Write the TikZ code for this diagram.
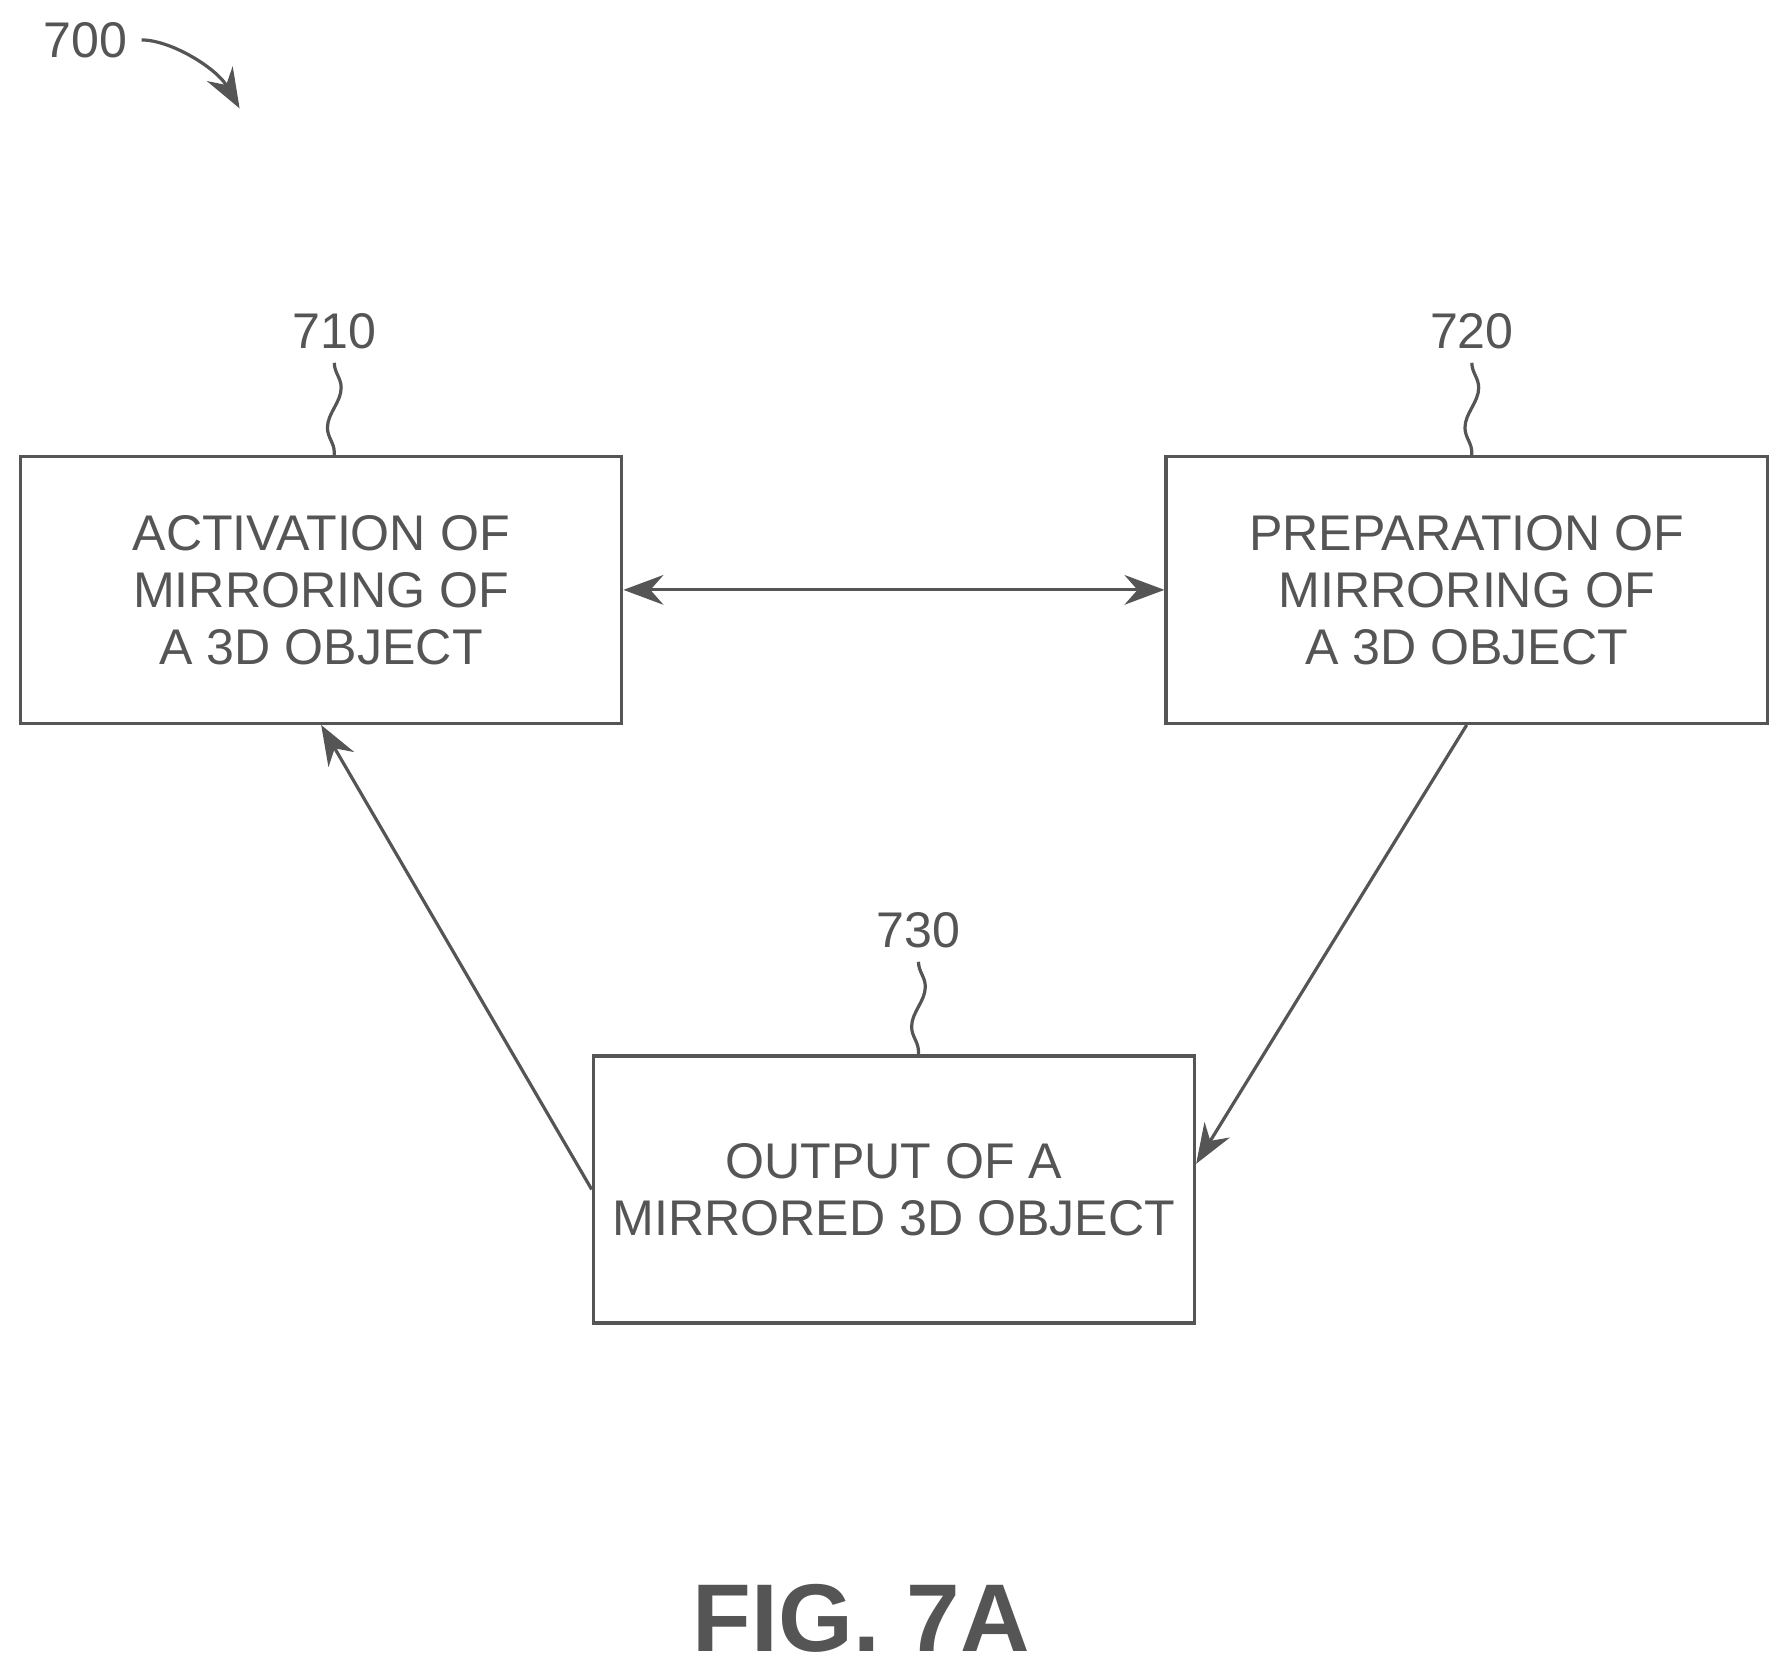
\documentclass[tikz,border=0pt]{standalone}
\usepackage{fontspec}
\setmainfont{Liberation Sans}
\usetikzlibrary{arrows.meta,positioning,decorations.pathmorphing}
\definecolor{strich}{RGB}{85,85,85}
\tikzset{
  kasten/.style={draw=strich, thick, minimum width=5.27cm, minimum height=2.34cm,
    align=center, font=\fontsize{12.5}{14.2}\selectfont, text=strich},
  nummer/.style={font=\fontsize{12.5}{14}\selectfont, text=strich},
  pfeil/.style={draw=strich, thick, -{Stealth[length=3.5mm,width=2.6mm]}},
  welle/.style={draw=strich, thick, decorate, decoration={snake, amplitude=0.6mm, segment length=7mm}}
}
\begin{document}
\begin{tikzpicture}
  \useasboundingbox (0,0) rectangle (15.68,-14.63);

  % Kaesten
  \node[kasten] (aktiv) at (2.815,-5.17) {ACTIVATION OF\\MIRRORING OF\\A 3D OBJECT};
  \node[kasten] (vorb) at (12.855,-5.17) {PREPARATION OF\\MIRRORING OF\\A 3D OBJECT};
  \node[kasten] (ausg) at (7.835,-10.425) {OUTPUT OF A\\MIRRORED 3D OBJECT};

  % Bezugszeichen
  \node[nummer] (n710) at (2.93,-2.9) {710};
  \node[nummer] (n720) at (12.9,-2.9) {720};
  \node[nummer] (n730) at (8.05,-8.15) {730};
  \draw[welle] (n710.south) -- (aktiv.north -| n710.south);
  \draw[welle] (n720.south) -- (vorb.north -| n720.south);
  \draw[welle] (n730.south) -- (ausg.north -| n730.south);

  \node[nummer] (n700) at (0.75,-0.35) {700};
  \coordinate (z700) at (2.1,-0.95);
  \draw[pfeil] (n700.east) .. controls (1.5,-0.35) and (1.9,-0.6) .. (z700);

  % Verbindungen
  \draw[pfeil, {Stealth[length=3.5mm,width=2.6mm]}-{Stealth[length=3.5mm,width=2.6mm]}] (aktiv.east) -- (vorb.west);
  \draw[pfeil] (vorb.south) -- ([yshift=0.1cm]ausg.east |- 0,-10.3);
  \draw[pfeil] (ausg.west) -- (aktiv.south);

  \node[font=\bfseries\fontsize{24}{28}\selectfont, text=strich] (titel) at (7.55,-14.18) {FIG. 7A};
\end{tikzpicture}
\end{document}
